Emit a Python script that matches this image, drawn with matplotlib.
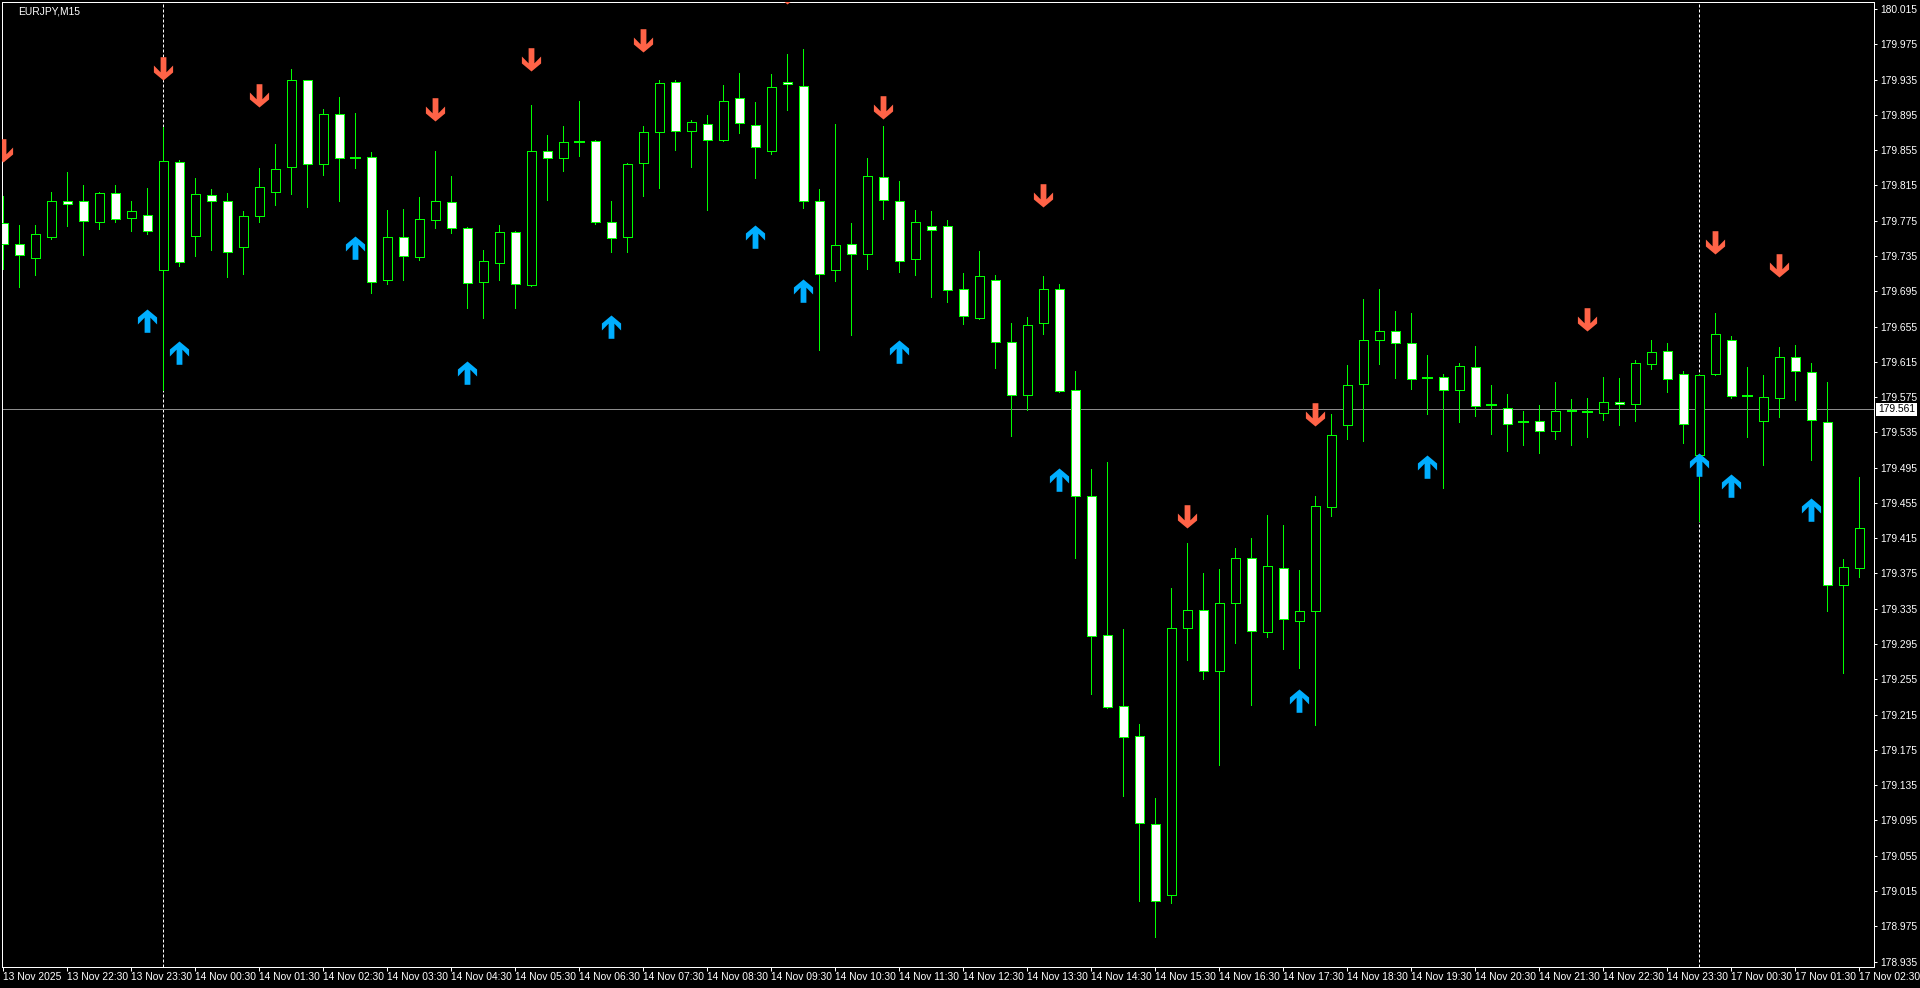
import matplotlib
matplotlib.use("Agg")
import matplotlib.pyplot as plt
import numpy as np
from matplotlib.patches import Rectangle
from matplotlib.path import Path

plt.rcParams["font.family"] = ["Liberation Sans", "DejaVu Sans"]

# --- dados (EURJPY M15, 13-17 Nov 2025) ---
symbol = "EURJPY,M15"
opens = [179.772, 179.748, 179.733, 179.756, 179.797, 179.797, 179.773, 179.806, 179.778, 179.782,
         179.719, 179.842, 179.758, 179.804, 179.797, 179.745, 179.780, 179.808, 179.836, 179.934,
         179.839, 179.896, 179.846, 179.847, 179.708, 179.757, 179.734, 179.776, 179.796, 179.767,
         179.705, 179.727, 179.762, 179.702, 179.854, 179.846, 179.864, 179.865, 179.773, 179.756,
         179.840, 179.875, 179.932, 179.877, 179.885, 179.866, 179.914, 179.884, 179.854, 179.932,
         179.928, 179.797, 179.719, 179.748, 179.737, 179.825, 179.797, 179.731, 179.769, 179.769,
         179.697, 179.665, 179.708, 179.638, 179.577, 179.659, 179.698, 179.583, 179.463, 179.305,
         179.225, 179.191, 179.091, 179.011, 179.313, 179.334, 179.264, 179.342, 179.392, 179.309,
         179.381, 179.321, 179.332, 179.450, 179.543, 179.590, 179.640, 179.650, 179.636, 179.597,
         179.598, 179.583, 179.609, 179.566, 179.563, 179.547, 179.548, 179.537, 179.560, 179.558,
         179.557, 179.569, 179.567, 179.612, 179.627, 179.601, 179.509, 179.601, 179.640, 179.576,
         179.548, 179.574, 179.621, 179.603, 179.547, 179.362, 179.381]
highs = [179.803, 179.770, 179.770, 179.807, 179.830, 179.816, 179.808, 179.815, 179.797, 179.812,
         179.881, 179.844, 179.823, 179.811, 179.806, 179.786, 179.835, 179.862, 179.947, 179.935,
         179.902, 179.915, 179.897, 179.853, 179.787, 179.788, 179.802, 179.854, 179.826, 179.768,
         179.742, 179.770, 179.763, 179.906, 179.872, 179.882, 179.911, 179.866, 179.797, 179.840,
         179.882, 179.934, 179.935, 179.889, 179.895, 179.929, 179.942, 179.910, 179.941, 179.964,
         179.970, 179.811, 179.885, 179.772, 179.846, 179.882, 179.820, 179.787, 179.786, 179.776,
         179.716, 179.741, 179.713, 179.659, 179.666, 179.712, 179.703, 179.605, 179.494, 179.501,
         179.312, 179.204, 179.120, 179.359, 179.409, 179.375, 179.380, 179.404, 179.415, 179.441,
         179.430, 179.379, 179.463, 179.556, 179.611, 179.686, 179.698, 179.673, 179.670, 179.623,
         179.601, 179.614, 179.633, 179.589, 179.579, 179.559, 179.566, 179.592, 179.573, 179.574,
         179.598, 179.597, 179.617, 179.640, 179.636, 179.605, 179.601, 179.670, 179.644, 179.609,
         179.600, 179.632, 179.634, 179.614, 179.592, 179.391, 179.484]
lows = [179.720, 179.700, 179.713, 179.754, 179.769, 179.736, 179.766, 179.773, 179.763, 179.760,
        179.583, 179.724, 179.735, 179.742, 179.711, 179.714, 179.774, 179.793, 179.805, 179.791,
        179.827, 179.797, 179.835, 179.693, 179.703, 179.708, 179.730, 179.767, 179.761, 179.676,
        179.665, 179.708, 179.676, 179.701, 179.798, 179.831, 179.848, 179.771, 179.740, 179.740,
        179.803, 179.812, 179.855, 179.836, 179.787, 179.865, 179.874, 179.823, 179.851, 179.900,
        179.789, 179.628, 179.707, 179.645, 179.720, 179.777, 179.717, 179.713, 179.688, 179.683,
        179.658, 179.664, 179.608, 179.531, 179.560, 179.647, 179.581, 179.393, 179.238, 179.222,
        179.123, 179.004, 178.963, 179.001, 179.277, 179.255, 179.158, 179.296, 179.226, 179.303,
        179.289, 179.268, 179.203, 179.440, 179.527, 179.525, 179.613, 179.597, 179.584, 179.556,
        179.472, 179.547, 179.554, 179.533, 179.514, 179.521, 179.512, 179.528, 179.521, 179.530,
        179.549, 179.543, 179.548, 179.607, 179.581, 179.523, 179.435, 179.600, 179.574, 179.530,
        179.498, 179.552, 179.572, 179.504, 179.333, 179.262, 179.371]
closes = [179.748, 179.736, 179.760, 179.797, 179.794, 179.775, 179.806, 179.777, 179.786, 179.763,
          179.843, 179.728, 179.805, 179.797, 179.740, 179.780, 179.813, 179.834, 179.934, 179.839,
          179.896, 179.846, 179.846, 179.706, 179.757, 179.735, 179.777, 179.797, 179.767, 179.704,
          179.729, 179.762, 179.703, 179.854, 179.846, 179.864, 179.864, 179.773, 179.755, 179.839,
          179.875, 179.931, 179.877, 179.887, 179.867, 179.911, 179.886, 179.858, 179.926, 179.930,
          179.797, 179.715, 179.747, 179.737, 179.826, 179.798, 179.729, 179.773, 179.764, 179.696,
          179.667, 179.712, 179.638, 179.577, 179.657, 179.698, 179.582, 179.463, 179.304, 179.224,
          179.190, 179.092, 179.004, 179.313, 179.334, 179.264, 179.341, 179.392, 179.310, 179.383,
          179.323, 179.332, 179.451, 179.532, 179.589, 179.640, 179.650, 179.636, 179.595, 179.597,
          179.583, 179.610, 179.565, 179.566, 179.545, 179.547, 179.536, 179.559, 179.559, 179.558,
          179.569, 179.567, 179.614, 179.626, 179.596, 179.544, 179.600, 179.646, 179.576, 179.576,
          179.575, 179.620, 179.605, 179.549, 179.362, 179.382, 179.426]

# setas do indicador (indice da barra, preco da ponta)
sell_bars = [0, 10, 16, 27, 33, 40, 49, 55, 65, 74, 82, 99, 107, 111]
sell_levels = [179.841, 179.935, 179.904, 179.888, 179.945, 179.966, 180.021, 179.890, 179.790,
               179.426, 179.542, 179.650, 179.737, 179.711]
buy_bars = [9, 11, 22, 29, 38, 47, 50, 56, 66, 81, 89, 106, 108, 113]
buy_levels = [179.675, 179.639, 179.758, 179.616, 179.668, 179.770, 179.709, 179.640, 179.495,
              179.244, 179.509, 179.512, 179.488, 179.461]

separator_bars = [10, 106]  # 14 Nov 00:00 e 17 Nov 00:00
bid = 179.561

price_ticks = [180.015, 179.975, 179.935, 179.895, 179.855, 179.815, 179.775, 179.735, 179.695,
               179.655, 179.615, 179.575, 179.535, 179.495, 179.455, 179.415, 179.375, 179.335,
               179.295, 179.255, 179.215, 179.175, 179.135, 179.095, 179.055, 179.015, 178.975,
               178.935]
time_labels = ["13 Nov 2025", "13 Nov 22:30", "13 Nov 23:30",
               "14 Nov 00:30", "14 Nov 01:30", "14 Nov 02:30", "14 Nov 03:30", "14 Nov 04:30",
               "14 Nov 05:30", "14 Nov 06:30", "14 Nov 07:30", "14 Nov 08:30", "14 Nov 09:30",
               "14 Nov 10:30", "14 Nov 11:30", "14 Nov 12:30", "14 Nov 13:30", "14 Nov 14:30",
               "14 Nov 15:30", "14 Nov 16:30", "14 Nov 17:30", "14 Nov 18:30", "14 Nov 19:30",
               "14 Nov 20:30", "14 Nov 21:30", "14 Nov 22:30", "14 Nov 23:30",
               "17 Nov 00:30", "17 Nov 01:30", "17 Nov 02:30"]
time_tick_bars = list(range(0, len(opens), 4))

# --- estilo ---
W, H, DPI = 1920, 988, 100
PX = 72 / DPI  # pontos por pixel
BG, FG = "black", "white"
GREEN = "#00ff00"
C_SELL, C_BUY, C_BID = "#ff6347", "#00aeff", "#8c8c8c"
BAR_PX = 16
FS = 7.4

fig = plt.figure(figsize=(W / DPI, H / DPI), dpi=DPI, facecolor=BG)
L, R, T, B = 2, 1874, 2, 967
ax = fig.add_axes([L / W, 1 - B / H, (R - L) / W, (B - T) / H], facecolor=BG)

n = len(opens)
x = np.arange(n)

# separadores de dia e linha do bid
for b in separator_bars:
    ax.axvline(b, color=FG, lw=PX, ls=(0, (3, 2)), zorder=1)
ax.axhline(bid, color=C_BID, lw=PX, zorder=1)

# candles
ax.vlines(x, lows, highs, color=GREEN, lw=PX, zorder=3, antialiased=False)
bw = 9 / BAR_PX
for i in range(n):
    o, c = opens[i], closes[i]
    if o == c:
        ax.hlines(o, i - 5.5 / BAR_PX, i + 5.5 / BAR_PX, color=GREEN, lw=2 * PX, zorder=4,
                  antialiased=False)
    else:
        fill = FG if c < o else BG
        ax.add_patch(Rectangle((i - bw / 2, min(o, c)), bw, abs(c - o), facecolor=fill,
                               edgecolor=GREEN, lw=PX, zorder=4, antialiased=False))

# setas (ponta na origem, em pixels)
arrow = np.array([(0, 0), (9.6, 8.0), (9.6, 15), (2.9, 8.2), (2.9, 23.3), (-2.9, 23.3),
                  (-2.9, 8.2), (-9.6, 15), (-9.6, 8.0), (0, 0)])
down = Path(arrow, closed=True)
up = Path(arrow * [1, -1], closed=True)
ms = 2 * np.abs(arrow).max() * PX
ax.plot(sell_bars, sell_levels, ls="none", marker=down, ms=ms, color=C_SELL, mew=0, zorder=6)
ax.plot(buy_bars, buy_levels, ls="none", marker=up, ms=ms, color=C_BUY, mew=0, zorder=6)

# eixos
ax.set_xlim((L - 3) / BAR_PX, (R - 3) / BAR_PX)
ax.set_ylim(180.015 - (B - 9) / 882, 180.015 - (T - 9) / 882)
for s in ax.spines.values():
    s.set_color(FG)
    s.set_linewidth(PX)

ax.yaxis.tick_right()
ax.set_yticks(price_ticks)
ax.set_yticklabels([f"{v:.3f}" for v in price_ticks])
ax.tick_params(axis="y", colors=FG, length=3 * PX, width=PX, pad=3 * PX, labelsize=FS)
ax.set_xticks(time_tick_bars)
ax.set_xticklabels(time_labels)
ax.tick_params(axis="x", colors=FG, length=4 * PX, width=PX, pad=1 * PX, labelsize=FS)
for lbl in ax.get_xticklabels():
    lbl.set_ha("left")

ax.annotate(f"{bid:.3f}", xy=(1, bid), xycoords=("axes fraction", "data"),
            xytext=(4, 0), textcoords="offset pixels", ha="left", va="center",
            fontsize=FS, color="black", annotation_clip=False,
            bbox=dict(boxstyle="square,pad=0.15", fc="white", ec="none"))
fig.text(18 / W, 1 - 11 / H, symbol, color=FG, fontsize=FS, ha="left", va="center")

fig.savefig("out.png", dpi=DPI, facecolor=BG)
